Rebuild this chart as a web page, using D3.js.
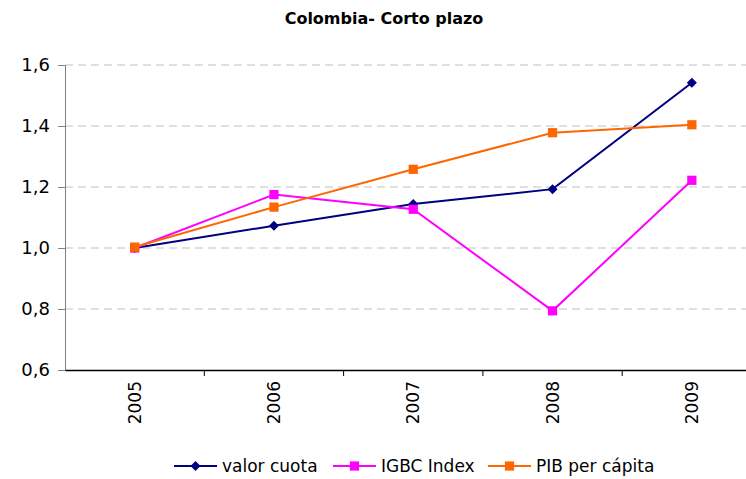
<!DOCTYPE html>
<html>
<head>
<meta charset="utf-8">
<script src="https://cdn.jsdelivr.net/npm/d3@7"></script>
<style>
  body { margin: 0; background: #fff; }
  text { font-family: "DejaVu Sans", sans-serif; }
</style>
</head>
<body>
<svg id="chart" width="746" height="479"></svg>
<script>
// Data
const years = ["2005", "2006", "2007", "2008", "2009"];
const valorCuota = [1.000, 1.073, 1.144, 1.193, 1.542];
const igbcIndex = [1.000, 1.175, 1.127, 0.794, 1.222];
const pibPerCapita = [1.003, 1.134, 1.258, 1.378, 1.404];
const yTicks = [0.6, 0.8, 1.0, 1.2, 1.4, 1.6];

const series = [
  { name: "valor cuota", values: valorCuota, color: "#000080", marker: "diamond" },
  { name: "IGBC Index", values: igbcIndex, color: "#ff00ff", marker: "square" },
  { name: "PIB per cápita", values: pibPerCapita, color: "#ff6600", marker: "square" }
];

const svg = d3.select("#chart");
const plotLeft = 65, plotTop = 65, plotBottom = 370;
const bandW = 139.3;
const plotRight = plotLeft + bandW * years.length; // plot runs past the window edge

const x = d3.scaleBand().domain(years).range([plotLeft, plotRight]);
const y = d3.scaleLinear().domain([0.6, 1.6]).range([plotBottom, plotTop]);
const fmt = v => d3.format(".1f")(v).replace(".", ",");

// Title
svg.append("text")
  .attr("x", 384).attr("y", 24)
  .attr("text-anchor", "middle")
  .attr("font-size", 16).attr("font-weight", "bold")
  .text("Colombia- Corto plazo");

// Gridlines
svg.append("g").selectAll("line")
  .data(yTicks.filter(d => d > 0.6))
  .join("line")
  .attr("x1", plotLeft).attr("x2", plotRight)
  .attr("y1", d => y(d)).attr("y2", d => y(d))
  .attr("stroke", "#c0c0c0").attr("stroke-dasharray", "8,5");

// Y axis
const yAxis = svg.append("g")
  .attr("transform", `translate(${plotLeft},0)`)
  .call(d3.axisLeft(y).tickValues(yTicks).tickFormat(fmt).tickSize(7).tickPadding(8));
yAxis.select(".domain").attr("stroke", "#808080");
yAxis.selectAll(".tick line").attr("stroke", "#808080");
yAxis.selectAll("text").attr("font-size", 18).attr("fill", "#000");

// X axis
const xAxis = svg.append("g")
  .attr("transform", `translate(0,${plotBottom})`)
  .call(d3.axisBottom(x).tickSize(0).tickSizeOuter(0));
xAxis.select(".domain").attr("stroke", "#000").attr("stroke-width", 1.5);
xAxis.selectAll(".tick text")
  .attr("font-size", 17).attr("fill", "#000")
  .attr("transform", "rotate(-90)")
  .attr("text-anchor", "end")
  .attr("x", -11).attr("y", 0).attr("dy", "0.35em");
// category separators
svg.append("g").selectAll("line")
  .data(years.slice(1))
  .join("line")
  .attr("x1", d => x(d)).attr("x2", d => x(d))
  .attr("y1", plotBottom).attr("y2", plotBottom + 6)
  .attr("stroke", "#000");

// Lines and markers
const line = d3.line()
  .x((d, i) => x(years[i]) + x.bandwidth() / 2)
  .y(d => y(d));

const diamond = d3.symbol().type(d3.symbolDiamond2).size(64);
const square = d3.symbol().type(d3.symbolSquare).size(85);

series.forEach(s => {
  svg.append("path")
    .datum(s.values)
    .attr("fill", "none")
    .attr("stroke", s.color)
    .attr("stroke-width", 2)
    .attr("d", line);
  svg.append("g").selectAll("path")
    .data(s.values)
    .join("path")
    .attr("transform", (d, i) => `translate(${x(years[i]) + x.bandwidth() / 2},${y(d)})`)
    .attr("d", s.marker === "diamond" ? diamond() : square())
    .attr("fill", s.color);
});

// Legend
const legendX = [174, 333, 488];
const legend = svg.append("g").selectAll("g")
  .data(series)
  .join("g")
  .attr("transform", (d, i) => `translate(${legendX[i]},466)`);
legend.append("line")
  .attr("x1", 0).attr("x2", 43)
  .attr("stroke", d => d.color).attr("stroke-width", 2);
legend.append("path")
  .attr("transform", "translate(21.5,0)")
  .attr("d", d => d.marker === "diamond" ? diamond() : square())
  .attr("fill", d => d.color);
legend.append("text")
  .attr("x", 48).attr("dy", "0.35em")
  .attr("font-size", 17)
  .text(d => d.name);
</script>
</body>
</html>
